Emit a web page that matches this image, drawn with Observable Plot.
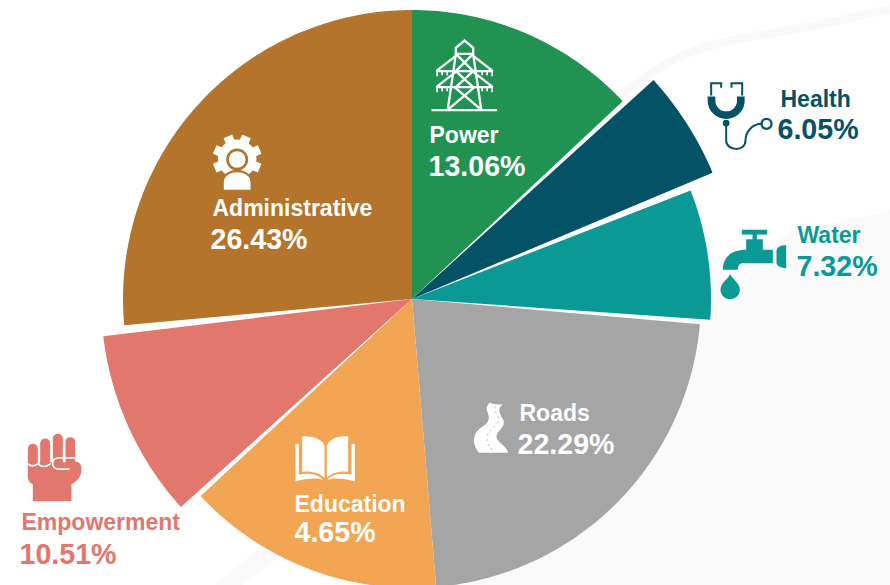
<!DOCTYPE html>
<html><head><meta charset="utf-8">
<script src="https://cdn.jsdelivr.net/npm/d3@7"></script>
<script src="https://cdn.jsdelivr.net/npm/@observablehq/plot@0.6"></script>
<style>html,body{margin:0;padding:0;background:#fff}svg{display:block}</style>
</head><body><div id="chart"></div>
<script>
const sectors   = ["Power","Health","Water","Roads","Education","Empowerment","Administrative"];
const pctLabels = ["13.06%","6.05%","7.32%","22.29%","4.65%","10.51%","26.43%"];
const startDeg  = [0,47.8,68.7,95,175.2,228,264.8];
const endDeg    = [46.8,67.2,94,175.2,227,263.1,360];
const radii     = [289,326,299,289,289,311,289];
const colors    = ["#209353","#045266","#0B9996","#A5A5A5","#F2A654","#E2776E","#B4742B"];
const textColors= ["#fff","#045266","#0B9996","#fff","#fff","#E2776E","#fff"];

const center = [411.5,298.5];
const nameX = [429,780,797,519,294,21,212];
const nameY = [142,106,242,420,511,529,215];
const pctX  = [428,777,796,517,294,19,210];
const pctY  = [175,138,275,453,541,563,248];

function pt(deg,r){const a=deg*Math.PI/180;return [center[0]+r*Math.sin(a),center[1]-r*Math.cos(a)];}
const slices = sectors.flatMap((s,i)=>{
  const out=[{s,p:center}];
  const n=Math.ceil(endDeg[i]-startDeg[i]);
  for(let k=0;k<=n;k++) out.push({s,p:pt(startDeg[i]+(endDeg[i]-startDeg[i])*k/n,radii[i])});
  return out;
});

const lowerWash=[[640,330],[710,277],[790,232],[890,210],[890,585],[430,585],[640,330]];
const topSwoosh=[[622,93],[680,56],[750,36],[820,24],[890,8]];
const botSwoosh=[[222,590],[245,570],[272,550]];

const uri=(vb,w,h,body)=>"data:image/svg+xml,"+encodeURIComponent(`<svg xmlns="http://www.w3.org/2000/svg" width="${w}" height="${h}" viewBox="${vb.join(" ")}">${body}</svg>`);
function icon(z,vb,body){const w=vb[2]/3,h=vb[3]/3;return {x:z[0]+(vb[0]+vb[2]/2)/3,y:z[1]+(vb[1]+vb[3]/2)/3,w,h,src:uri(vb,w,h,body)};}

const towerBody=`<g fill="none" stroke="#fff" stroke-width="7">
<path d="M33 239H230M106 72V52L132 30L158 52V72M106 70H158M106 70L82 236M158 70L182 236M106 70L158 122M158 70L106 122M106 76L47 122M158 76L217 122M47 122H217M106 124L47 170M158 124L217 170M47 170H217M106 122L158 170M158 122L106 170M102 170L180 236M162 170L84 236"/>
<path stroke-width="5" d="M50 122v15M65 122v12M80 122v12M185 122v12M200 122v12M215 122v15M50 170v15M65 170v12M80 170v12M185 170v12M200 170v12M215 170v15"/></g>`;
const stethBody=`<g fill="none" stroke="#045266"><path stroke-width="23" d="M933 288v12a44 44 0 0 0 88 0v-12"/>
<path stroke-width="6" d="M932 285V248H962V262M1025 285V248H993V262"/>
<path stroke-width="6" d="M977 370V420C977 452 1035 455 1035 420C1035 395 1055 370 1083 370"/>
<circle cx="1098" cy="370" r="15" stroke-width="7"/></g><circle cx="977" cy="368" r="10" fill="#045266"/>`;
const tapBody=`<g fill="#0B9996"><path d="M154 148H230V162H199V176H217V208H247V248H158C146 248 142 256 142 268H97C97 232 120 208 167 208V176H186V162H154Z"/>
<path d="M287 194V263C270 263 258 256 258 246V212C258 200 270 194 287 194Z"/>
<path d="M119 281C108 300 90 308 90 328C90 345 104 356 119 356C134 356 148 345 148 328C148 308 130 300 119 281Z"/></g>`;
const fistBody=`<g fill="#E2776E"><rect x="82" y="430" width="30" height="90" rx="15"/><rect x="119" y="414" width="30" height="100" rx="15"/><rect x="157" y="400" width="30" height="100" rx="15"/><rect x="195" y="410" width="29" height="100" rx="14"/>
<path d="M82 485H215C235 480 243 490 243 505C243 525 235 540 213 552V602H97V552C88 546 82 540 82 530Z"/></g>
<path fill="none" stroke="#fff" stroke-width="5" stroke-linecap="round" d="M82 490Q95 502 112 490Q130 506 150 490M222 472H175C150 472 150 506 175 506H205M115 445V490M153 430V480M191 425V468"/>`;
const bookBody=`<g fill="#fff"><path d="M905 408C935 405 960 415 972 434V532C955 516 930 510 905 514Z"/><path d="M1043 408C1013 405 990 415 979 434V532C995 516 1018 510 1043 514Z"/>
<path d="M885 430H895V522C925 516 952 520 968 538C945 530 915 535 885 542Z"/><path d="M1063 430H1053V522C1023 516 996 520 980 538C1003 530 1033 535 1063 542Z"/></g>`;
const teeth=d3.range(8).map(k=>`<rect x="126" y="42" width="28" height="30" transform="rotate(${k*45+22.5} 140 115)" fill="#fff"/>`).join("");
const gearBody=`${teeth}<circle cx="140" cy="115" r="58" fill="#fff"/><circle cx="140" cy="117" r="29" fill="#fff" stroke="#B4742B" stroke-width="8"/>
<path d="M92 215V190C92 165 115 148 140 148C165 148 188 165 188 190V215Z" fill="#B4742B"/><path d="M100 208V185C100 165 120 155 140 155C160 155 180 165 180 185V208Z" fill="#fff"/>`;
const roadBody=`<path fill="#fff" d="M88 22C100 28 118 28 128 26C108 38 118 55 128 72C138 95 108 105 108 125C111 142 138 150 143 172H55C42 155 35 135 45 115C55 95 82 90 85 70C87 50 68 40 88 22Z"/>
<path fill="none" stroke="#A5A5A5" stroke-width="2" stroke-dasharray="7 9" d="M105 32C95 50 125 65 110 85C95 100 75 115 80 135C82 150 90 155 95 165"/>`;

const icons=[
 icon([420,30],[20,20,220,230],towerBody),
 icon([400,0],[905,230,220,230],stethBody),
 icon([690,180],[80,140,220,225],tapBody),
 icon([460,395],[30,15,120,165],roadBody),
 icon([0,300],[870,395,210,160],bookBody),
 icon([0,300],[70,390,185,220],fistBody),
 icon([190,120],[55,35,170,185],gearBody)
];

const chart=Plot.plot({
  width:890,height:585,margin:0,
  x:{domain:[0,890],range:[0,890],axis:null},
  y:{domain:[0,585],range:[0,585],axis:null},
  marks:[
    Plot.line(lowerWash,{x:d=>d[0],y:d=>d[1],fill:"#FAFAFA",stroke:"none"}),
    Plot.line(topSwoosh,{x:d=>d[0],y:d=>d[1],stroke:"#F9F9F9",strokeWidth:8,curve:"natural"}),
    Plot.line(botSwoosh,{x:d=>d[0],y:d=>d[1],stroke:"#FAFAFA",strokeWidth:18}),
    Plot.line(slices,{x:d=>d.p[0],y:d=>d.p[1],z:"s",fill:d=>colors[sectors.indexOf(d.s)],stroke:"none"}),
    Plot.image(icons,{x:"x",y:"y",width:"w",height:"h",src:"src"}),
    Plot.text(sectors,{x:(d,i)=>nameX[i],y:(d,i)=>nameY[i],text:d=>d,fill:(d,i)=>textColors[i],textAnchor:"start",lineAnchor:"bottom",fontSize:23,fontWeight:700,fontFamily:"Liberation Sans"}),
    Plot.text(pctLabels,{x:(d,i)=>pctX[i],y:(d,i)=>pctY[i],text:d=>d,fill:(d,i)=>textColors[i],textAnchor:"start",lineAnchor:"bottom",fontSize:28.6,fontWeight:700,fontFamily:"Liberation Sans"})
  ]
});
document.getElementById("chart").appendChild(chart);
</script></body></html>
